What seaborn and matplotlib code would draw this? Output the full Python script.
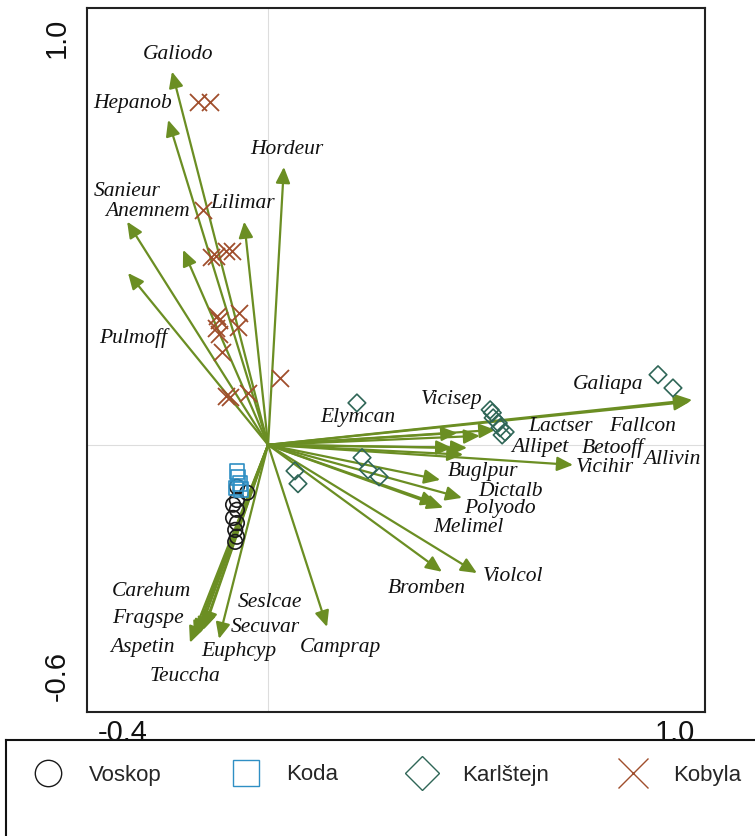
import pandas as pd
import seaborn as sns
import matplotlib.pyplot as plt
from matplotlib.lines import Line2D

# species arrows (end points, CCA axis 1 / axis 2)
species = ["Galiodo", "Hepanob", "Hordeur", "Lilimar", "Sanieur", "Anemnem", "Pulmoff",
           "Carehum", "Fragspe", "Aspetin", "Teuccha", "Seslcae", "Secuvar", "Euphcyp", "Camprap",
           "Galiapa", "Fallcon", "Lactser", "Vicisep", "Elymcan", "Allipet", "Betooff", "Allivin",
           "Vicihir", "Buglpur", "Dictalb", "Polyodo", "Melimel", "Bromben", "Violcol"]
sp_x = [-0.225, -0.234, 0.037, -0.056, -0.330, -0.199, -0.328,
        -0.152, -0.162, -0.173, -0.183, -0.148, -0.169, -0.115, 0.138,
        0.993, 0.988, 0.532, 0.496, 0.443, 0.466, 0.431, 0.457,
        0.714, 0.403, 0.454, 0.410, 0.396, 0.407, 0.489]
sp_y = [0.873, 0.760, 0.650, 0.522, 0.522, 0.456, 0.402,
        -0.433, -0.442, -0.451, -0.463, -0.428, -0.447, -0.454, -0.426,
        0.105, 0.101, 0.035, 0.021, 0.028, -0.007, -0.007, -0.023,
        -0.047, -0.082, -0.124, -0.147, -0.138, -0.297, -0.300]
# where each species name sits
lab_x = [-0.211, -0.318, 0.044, -0.059, -0.330, -0.283, -0.316,
         -0.272, -0.281, -0.295, -0.194, 0.005, -0.007, -0.068, 0.169,
         0.796, 0.876, 0.684, 0.431, 0.211, 0.637, 0.808, 0.946,
         0.789, 0.504, 0.567, 0.543, 0.468, 0.372, 0.574]
lab_y = [0.912, 0.798, 0.690, 0.564, 0.592, 0.545, 0.250,
         -0.344, -0.407, -0.475, -0.543, -0.370, -0.428, -0.484, -0.475,
         0.140, 0.042, 0.042, 0.105, 0.063, -0.007, -0.007, -0.035,
         -0.054, -0.063, -0.110, -0.150, -0.194, -0.335, -0.309]

# sample scores per locality
voskop_x = [-0.073, -0.049, -0.082, -0.073, -0.082, -0.073, -0.077, -0.073, -0.077, -0.073]
voskop_y = [-0.098, -0.112, -0.140, -0.152, -0.171, -0.183, -0.199, -0.215, -0.227, -0.129]
koda_x = [-0.073, -0.070, -0.066, -0.075, -0.063]
koda_y = [-0.063, -0.077, -0.091, -0.101, -0.105]
karl_x = [0.913, 0.948, 0.208, 0.520, 0.525, 0.527, 0.539, 0.543, 0.555, 0.548,
          0.220, 0.234, 0.260, 0.063, 0.070]
karl_y = [0.164, 0.133, 0.098, 0.082, 0.075, 0.063, 0.051, 0.040, 0.030, 0.023,
          -0.030, -0.058, -0.075, -0.061, -0.091]
kobyla_x = [-0.164, -0.136, -0.152, -0.133, -0.122, -0.098, -0.084, -0.119, -0.115,
            -0.068, -0.122, -0.070, -0.115, -0.108, 0.028, -0.098, -0.089, -0.047]
kobyla_y = [0.802, 0.802, 0.550, 0.440, 0.442, 0.454, 0.454, 0.302, 0.292,
            0.309, 0.274, 0.276, 0.260, 0.218, 0.157, 0.115, 0.112, 0.122]

sites = pd.concat([
    pd.DataFrame({"x": voskop_x, "y": voskop_y, "site": "Voskop"}),
    pd.DataFrame({"x": koda_x, "y": koda_y, "site": "Koda"}),
    pd.DataFrame({"x": karl_x, "y": karl_y, "site": "Karlštejn"}),
    pd.DataFrame({"x": kobyla_x, "y": kobyla_y, "site": "Kobyla"}),
])

styles = {
    "Voskop": ("o", "#1a1a1a", 110),
    "Koda": ("s", "#2f8fc4", 110),
    "Karlštejn": ("D", "#2f6657", 80),
    "Kobyla": ("x", "#a04e2c", 150),
}
arrow_col = "#6b8e23"

sns.set_style("white")
plt.rcParams["font.family"] = ["Liberation Sans", "DejaVu Sans"]

fig = plt.figure(figsize=(7.55, 8.36), dpi=100)
ax = fig.add_axes([87 / 755, 1 - 712 / 836, 618 / 755, 704.5 / 836])

ax.axhline(0, color="#dddddd", lw=0.8, zorder=0)
ax.axvline(0, color="#dddddd", lw=0.8, zorder=0)

for name, (m, c, s) in styles.items():
    d = sites[sites["site"] == name]
    if m == "x":
        sns.scatterplot(data=d, x="x", y="y", marker=m, color=c, s=s, linewidth=1.3, ax=ax, zorder=3)
    else:
        sns.scatterplot(data=d, x="x", y="y", marker=m, s=s, facecolor="none", edgecolor=c,
                        linewidth=1.2, ax=ax, zorder=3)

for name, x, y in zip(species, sp_x, sp_y):
    ax.annotate("", xy=(x, y), xytext=(0, 0),
                arrowprops=dict(arrowstyle="-|>,head_length=0.8,head_width=0.36",
                                color=arrow_col, lw=1.6, mutation_scale=12,
                                shrinkA=0, shrinkB=0), zorder=2)

for name, x, y in zip(species, lab_x, lab_y):
    ax.text(x, y, name, family="Liberation Serif", style="italic", fontsize=15.5,
            ha="center", va="center", color="#111111", zorder=4)

ax.set_xlim(-0.424, 1.023)
ax.set_ylim(-0.625, 1.023)
xt = [-0.4, -0.2, 0.0, 0.2, 0.4, 0.6, 0.8, 1.0]
yt = [-0.6, -0.4, -0.2, 0.0, 0.2, 0.4, 0.6, 0.8, 1.0]
ax.set_xticks(xt)
ax.set_xticklabels(["-0.4"] + [""] * 6 + ["1.0"])
ax.set_yticks(yt)
ax.set_yticklabels(["-0.6"] + [""] * 7 + ["1.0"], rotation=90)
ax.set_xlabel("")
ax.set_ylabel("")
ax.tick_params(axis="both", direction="out", length=4, width=1.2, labelsize=21, colors="#111111")
ax.tick_params(axis="x", pad=1)
ax.tick_params(axis="y", pad=8)
xl = ax.get_xticklabels()
xl[0].set_ha("left")
xl[-1].set_ha("right")
yl = ax.get_yticklabels()
yl[0].set_va("bottom")
yl[-1].set_va("top")
for sp in ax.spines.values():
    sp.set_visible(True)
    sp.set_color("#222222")
    sp.set_linewidth(1.5)
if ax.get_legend():
    ax.get_legend().remove()

# legend box below the plot
lax = fig.add_axes([6 / 755, -0.05, 1.0, (836 - 740) / 836 + 0.05])
lax.set_xticks([])
lax.set_yticks([])
for sp in lax.spines.values():
    sp.set_visible(True)
    sp.set_color("#111111")
    sp.set_linewidth(1.5)
handles = []
for name, (m, c, s) in styles.items():
    if m == "x":
        h = Line2D([], [], marker=m, color=c, markersize=21, markeredgewidth=1.0, linestyle="none")
    else:
        h = Line2D([], [], marker=m, markerfacecolor="none", markeredgecolor=c,
                   markersize=19 if m != "D" else 17, markeredgewidth=1.0, linestyle="none")
    handles.append(h)
fig.legend(handles, list(styles.keys()), ncol=4, loc="center left",
           bbox_to_anchor=(0.02, 1 - 775 / 836), frameon=False, fontsize=16,
           handlelength=1.2, handletextpad=1.2, columnspacing=3.2)

fig.savefig("out.png", dpi=100)
